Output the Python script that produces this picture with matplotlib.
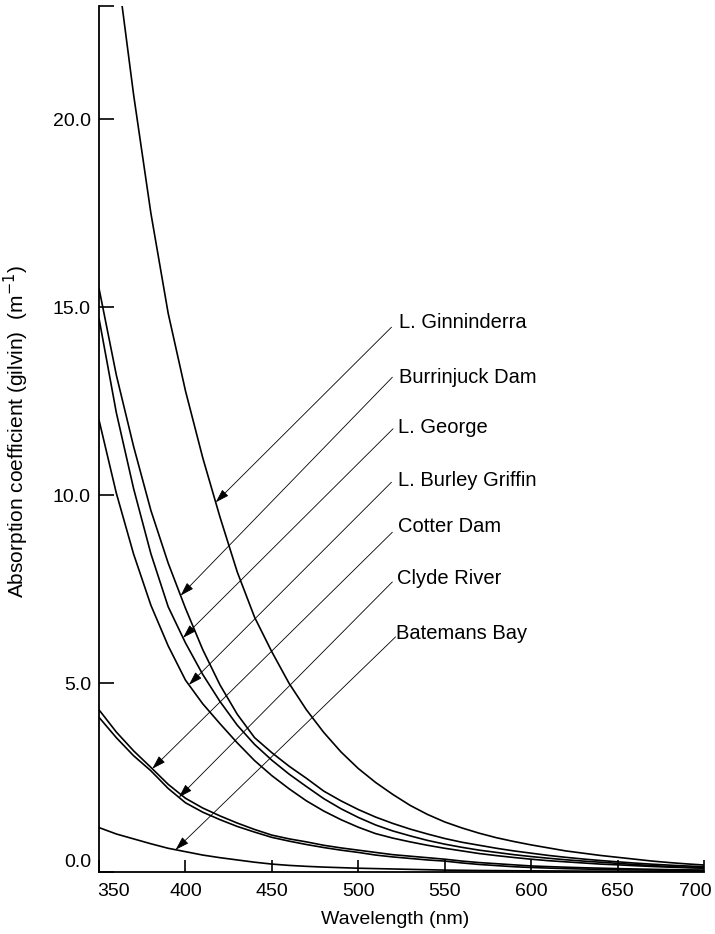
import numpy as np
import matplotlib
matplotlib.use("Agg")
import matplotlib.pyplot as plt
from matplotlib.transforms import ScaledTranslation

plt.rcParams['font.family'] = ['Liberation Sans', 'DejaVu Sans']

# wavelength grid (nm) the curves were read at: 350, 360, ... 700
wl = list(range(350, 701, 10))

ginninderra = [28.4, 24.2, 20.65, 17.5, 14.84, 12.78, 11.0, 9.42, 7.96, 6.76,
               5.84, 5.0, 4.30, 3.70, 3.18, 2.74, 2.37, 2.05, 1.76, 1.52,
               1.32, 1.16, 1.02, 0.90, 0.80, 0.71, 0.63, 0.55, 0.49, 0.43,
               0.38, 0.33, 0.28, 0.24, 0.205, 0.175]
burrinjuck = [15.5, 13.2, 11.3, 9.6, 8.2, 7.0, 5.9, 4.96, 4.18, 3.56,
              3.16, 2.80, 2.48, 2.14, 1.88, 1.65, 1.45, 1.28, 1.13, 1.0,
              0.88, 0.78, 0.70, 0.62, 0.55, 0.49, 0.43, 0.38, 0.335, 0.295,
              0.26, 0.227, 0.197, 0.172, 0.150, 0.13]
george = [14.7, 12.2, 10.18, 8.45, 7.04, 6.08, 5.24, 4.52, 3.89, 3.38,
          2.96, 2.59, 2.26, 1.94, 1.67, 1.44, 1.24, 1.08, 0.95, 0.83,
          0.73, 0.645, 0.57, 0.51, 0.45, 0.40, 0.355, 0.315, 0.28, 0.25,
          0.22, 0.188, 0.16, 0.137, 0.117, 0.10]
burley = [12.0, 10.06, 8.44, 7.08, 6.0, 5.09, 4.46, 3.93, 3.42, 2.95,
          2.55, 2.20, 1.88, 1.61, 1.38, 1.18, 1.01, 0.89, 0.79, 0.70,
          0.62, 0.55, 0.48, 0.425, 0.375, 0.33, 0.29, 0.26, 0.23, 0.20,
          0.18, 0.157, 0.136, 0.119, 0.103, 0.09]
cotter = [4.3, 3.71, 3.21, 2.77, 2.32, 1.95, 1.69, 1.48, 1.29, 1.12,
          0.97, 0.87, 0.79, 0.70, 0.63, 0.57, 0.51, 0.45, 0.41, 0.37,
          0.33, 0.28, 0.24, 0.21, 0.18, 0.15, 0.133, 0.117, 0.103, 0.091,
          0.08, 0.07, 0.061, 0.053, 0.046, 0.04]
clyde = [4.1, 3.56, 3.08, 2.68, 2.21, 1.83, 1.58, 1.38, 1.20, 1.05,
         0.91, 0.81, 0.72, 0.64, 0.57, 0.51, 0.44, 0.39, 0.35, 0.31,
         0.28, 0.23, 0.19, 0.16, 0.13, 0.11, 0.094, 0.08, 0.069, 0.058,
         0.05, 0.045, 0.041, 0.037, 0.033, 0.03]
batemans = [1.17, 1.0, 0.87, 0.74, 0.62, 0.53, 0.44, 0.37, 0.31, 0.25,
            0.20, 0.165, 0.14, 0.12, 0.105, 0.09, 0.08, 0.07, 0.06, 0.05,
            0.04, 0.035, 0.03, 0.027, 0.023, 0.02, 0.018, 0.016, 0.014, 0.012,
            0.01, 0.008, 0.006, 0.004, 0.002, 0.0]

names = ['L. Ginninderra', 'Burrinjuck Dam', 'L. George', 'L. Burley Griffin',
         'Cotter Dam', 'Clyde River', 'Batemans Bay']
series = [ginninderra, burrinjuck, george, burley, cotter, clyde, batemans]

# wavelength where each leader arrow touches its curve
arrow_wl = [417.5, 397.2, 398.6, 402.0, 380.8, 396.2, 394.3]
# label anchor (wavelength, value) for text and leader start
label_pos = [(523.4, 14.59), (523.4, 13.13), (522.8, 11.80), (522.8, 10.40),
             (522.8, 9.17), (522.2, 7.79), (521.6, 6.33)]
leader_start = [(519.2, 14.47), (519.7, 13.14), (520.1, 11.77), (519.2, 10.35),
                (519.7, 9.02), (519.7, 7.70), (521.6, 6.24)]

xticks = [350, 400, 450, 500, 550, 600, 650, 700]
yticks = [0.0, 5.0, 10.0, 15.0, 20.0]

fig = plt.figure(figsize=(7.15, 9.34), dpi=100)
ax = fig.add_axes([0.1385, 0.0668, 0.8461, 0.9265])

for s in series:
    ax.plot(wl, s, color='black', lw=1.2, zorder=3)

for i, nm in enumerate(names):
    tip = (arrow_wl[i], np.interp(arrow_wl[i], wl, series[i]))
    ax.annotate('', xy=tip, xytext=leader_start[i],
                arrowprops=dict(arrowstyle='-|>,head_length=0.7,head_width=0.22',
                                color='black', lw=0.6, shrinkA=0, shrinkB=0,
                                mutation_scale=12))
    ax.text(label_pos[i][0], label_pos[i][1], nm, fontsize=14.5,
            ha='left', va='center')

ax.set_xlim(350, 700)
ax.set_ylim(0, 23)
ax.spines['top'].set_visible(False)
ax.spines['right'].set_visible(False)
ax.spines['left'].set_linewidth(1.3)
ax.spines['bottom'].set_linewidth(1.3)

ax.set_xticks(xticks)
ax.set_yticks(yticks)
ax.set_yticklabels(['{:.1f}'.format(v) for v in yticks])
ax.set_yticks([23], minor=True)
ax.tick_params(axis='x', direction='in', length=8.5, width=1.2,
               labelsize=14, pad=8.3)
ax.tick_params(axis='y', direction='in', length=10.5, width=1.2,
               labelsize=14, pad=5.8)
ax.tick_params(axis='y', which='minor', direction='in', length=10.5, width=1.2)

# nudge end labels as in the original
xl = ax.get_xticklabels()
xl[0].set_transform(xl[0].get_transform() + ScaledTranslation(15/100, 0, fig.dpi_scale_trans))
xl[-1].set_transform(xl[-1].get_transform() + ScaledTranslation(-9/100, 0, fig.dpi_scale_trans))
yl = ax.get_yticklabels()
yl[0].set_transform(yl[0].get_transform() + ScaledTranslation(0, 11/100, fig.dpi_scale_trans))

ax.set_xlabel('Wavelength (nm)', fontsize=14)
ax.xaxis.set_label_coords(0.489, -0.0455)
ax.set_ylabel('Absorption coefficient (gilvin)  (m$^{-1}$)', fontsize=15)
ax.yaxis.set_label_coords(-0.112, 0.508)

plt.savefig('out.png', dpi=100)
